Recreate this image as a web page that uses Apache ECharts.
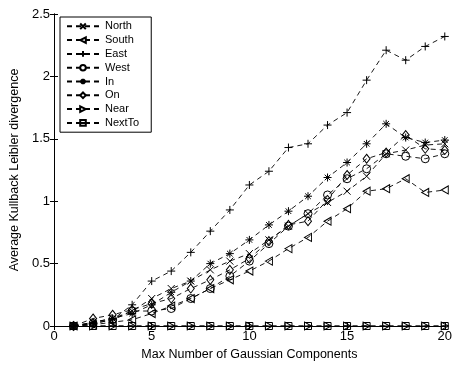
<!DOCTYPE html>
<html>
<head>
<meta charset="utf-8">
<script src="https://cdn.jsdelivr.net/npm/echarts@6/dist/echarts.min.js"></script>
<style>html,body{margin:0;padding:0;background:#fff}#c{width:455px;height:369px}</style>
</head>
<body>
<div id="c"></div>
<script>
const components = [1,2,3,4,5,6,7,8,9,10,11,12,13,14,15,16,17,18,19,20];
const north  = [0,0.03,0.06,0.12,0.22,0.30,0.36,0.45,0.52,0.58,0.69,0.80,0.90,0.99,1.08,1.20,1.38,1.41,1.45,1.46];
const south  = [0,0.01,0.03,0.05,0.10,0.16,0.22,0.30,0.37,0.44,0.52,0.62,0.71,0.84,0.94,1.08,1.10,1.18,1.07,1.09];
const east   = [0,0.02,0.05,0.17,0.36,0.44,0.59,0.76,0.93,1.13,1.24,1.43,1.46,1.61,1.71,1.97,2.21,2.13,2.24,2.32];
const west   = [0,0.02,0.05,0.12,0.12,0.14,0.22,0.30,0.40,0.52,0.66,0.80,0.90,1.05,1.18,1.26,1.38,1.36,1.34,1.38];
const inn    = [0,0.03,0.06,0.10,0.17,0.27,0.36,0.50,0.58,0.69,0.81,0.92,1.04,1.19,1.31,1.46,1.62,1.51,1.47,1.49];
const on     = [0,0.06,0.09,0.13,0.18,0.22,0.30,0.37,0.45,0.54,0.68,0.81,0.84,1.01,1.21,1.34,1.39,1.53,1.42,1.41];
const near   = [0,0,0,0,0,0,0,0,0,0,0,0,0,0,0,0,0,0,0,0];
const nextTo = [0,0,0,0,0,0,0,0,0,0,0,0,0,0,0,0,0,0,0,0];
const seriesNames = ['North','South','East','West','In','On','Near','NextTo'];
const xTicks = ['0','5','10','15','20'];
const yTicks = ['0','0.5','1','1.5','2','2.5'];

const symbols = {
  North: 'path://M0,0L10,10M0,10L10,0',
  South: 'path://M0,5L10,0L10,10Z',
  East: 'path://M5,0L5,10M0,5L10,5',
  West: 'circle',
  In: 'path://M5,0L5,10M0,5L10,5M1.5,1.5L8.5,8.5M1.5,8.5L8.5,1.5',
  On: 'diamond',
  Near: 'path://M10,5L0,0L0,10Z',
  NextTo: 'path://M0,0L10,0L10,10L0,10ZM0,5L10,5'
};
const sizes = {North:[7,7],South:[7,8],East:[8,8],West:[8,8],In:[8,8],On:[7,9],Near:[7,8],NextTo:[7,7]};
const dataMap = {North:north,South:south,East:east,West:west,In:inn,On:on,Near:near,NextTo:nextTo};

const series = seriesNames.map(n => ({
  name: n,
  type: 'line',
  data: components.map((c,i) => [c, dataMap[n][i]]),
  symbol: symbols[n],
  symbolSize: sizes[n],
  showAllSymbol: true,
  clip: false,
  animation: false,
  lineStyle: {color:'#000', width:0.9, type:[5,4]},
  itemStyle: {color:'transparent', borderColor:'#000', borderWidth:1}
}));

const font = 'Liberation Sans, Arial, Helvetica, sans-serif';
const chart = echarts.init(document.getElementById('c'), null, {renderer:'canvas'});
chart.setOption({
  backgroundColor: '#fff',
  animation: false,
  grid: {left:54, right:7, top:14, bottom:43, show:false},
  legend: {
    orient: 'vertical',
    left: 60, top: 17,
    data: seriesNames,
    itemWidth: 32, itemHeight: 7, itemGap: 1.2,
    padding: [3,12,3,6],
    borderColor: '#000', borderWidth: 1, backgroundColor: '#fff',
    textStyle: {fontFamily: font, fontSize: 11, color:'#000', lineHeight: 12.6, padding:[0,0,0,1]}
  },
  xAxis: [{
    type: 'value', min: 0, max: 20, interval: 5,
    axisLine: {show:true, onZero:false, lineStyle:{color:'#000', width:1}},
    axisTick: {inside:true, length:4, lineStyle:{color:'#000'}},
    axisLabel: {color:'#000', fontFamily: font, fontSize: 13, margin: 4,
      formatter: v => xTicks[Math.round(v/5)]},
    splitLine: {show:false},
    name: 'Max Number of Gaussian Components', nameLocation:'middle', nameGap: 21,
    nameTextStyle: {color:'#000', fontFamily: font, fontSize: 12.5}
  },{
    type: 'value', min: 0, max: 20, interval: 5, position:'top',
    axisLine: {show:true, lineStyle:{color:'#000', width:1}},
    axisTick: {inside:true, length:4, lineStyle:{color:'#000'}},
    axisLabel: {show:false}, splitLine:{show:false}
  }],
  yAxis: [{
    type: 'value', min: 0, max: 2.5, interval: 0.5,
    axisLine: {show:true, onZero:false, lineStyle:{color:'#000', width:1}},
    axisTick: {inside:true, length:4, lineStyle:{color:'#000'}},
    axisLabel: {color:'#000', fontFamily: font, fontSize: 13, margin: 4,
      formatter: v => yTicks[Math.round(v/0.5)]},
    splitLine: {show:false},
    name: 'Average Kullback Leibler divergence', nameLocation:'middle', nameGap: 32,
    nameTextStyle: {color:'#000', fontFamily: font, fontSize: 12.5}
  },{
    type: 'value', min: 0, max: 2.5, interval: 0.5, position:'right',
    axisLine: {show:true, lineStyle:{color:'#000', width:1}},
    axisTick: {inside:true, length:4, lineStyle:{color:'#000'}},
    axisLabel: {show:false}, splitLine:{show:false}
  }],
  series: series
});
</script>
</body>
</html>
